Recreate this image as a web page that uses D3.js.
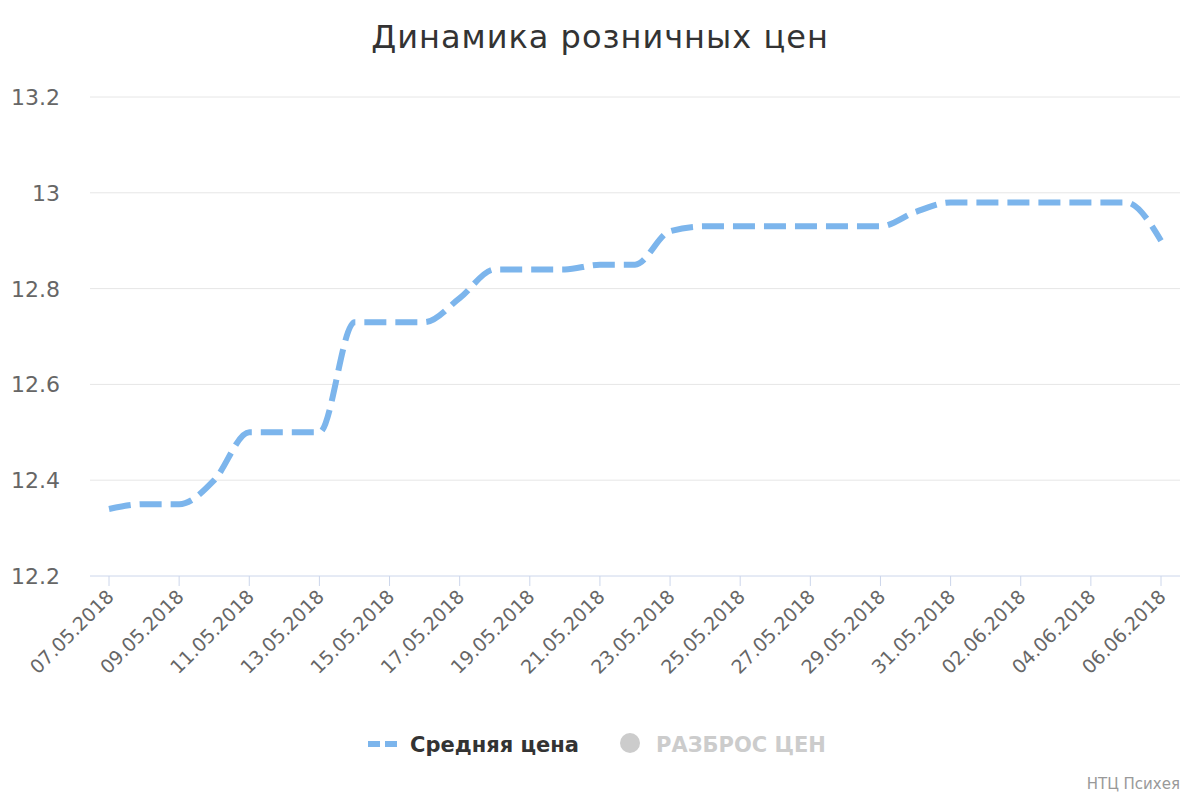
<!DOCTYPE html>
<html>
<head>
<meta charset="utf-8">
<script src="https://cdnjs.cloudflare.com/ajax/libs/d3/7.8.3/d3.min.js"></script>
<style>
 body { margin: 0; background: #fff; }
 text { font-family: "DejaVu Sans", sans-serif; }
</style>
</head>
<body>
<script>
const dates = ["07.05.2018","08.05.2018","09.05.2018","10.05.2018","11.05.2018","12.05.2018","13.05.2018",
  "14.05.2018","15.05.2018","16.05.2018","17.05.2018","18.05.2018","19.05.2018","20.05.2018","21.05.2018",
  "22.05.2018","23.05.2018","24.05.2018","25.05.2018","26.05.2018","27.05.2018","28.05.2018","29.05.2018",
  "30.05.2018","31.05.2018","01.06.2018","02.06.2018","03.06.2018","04.06.2018","05.06.2018","06.06.2018"];
const avgPrice = [12.34,12.35,12.35,12.40,12.50,12.50,12.50,12.73,12.73,12.73,12.78,12.84,12.84,12.84,12.85,
  12.85,12.92,12.93,12.93,12.93,12.93,12.93,12.93,12.96,12.98,12.98,12.98,12.98,12.98,12.98,12.90];
const yTicks = [12.2, 12.4, 12.6, 12.8, 13, 13.2];

const w = 1200, h = 800;
const plotLeft = 90, plotRight = 1180, plotTop = 97, plotBottom = 576;

const svg = d3.select("body").append("svg").attr("width", w).attr("height", h);

const x = d3.scaleLinear().domain([0, dates.length - 1]).range([109, 1161]);
const y = d3.scaleLinear().domain([12.2, 13.2]).range([plotBottom, plotTop]);

svg.append("text").attr("x", 600).attr("y", 48).attr("text-anchor", "middle")
   .attr("font-size", 32).attr("fill", "#333").attr("letter-spacing", 1).text("Динамика розничных цен");

// grid
svg.append("g").selectAll("line").data(yTicks).enter().append("line")
   .attr("x1", plotLeft).attr("x2", plotRight).attr("y1", d => y(d)).attr("y2", d => y(d))
   .attr("stroke", d => d === 12.2 ? "#ccd6eb" : "#e6e6e6").attr("stroke-width", 1);

// y labels
svg.append("g").selectAll("text").data(yTicks).enter().append("text")
   .attr("x", 60).attr("y", d => y(d) + 8).attr("text-anchor", "end")
   .attr("font-size", 22).attr("fill", "#666").text(d => d);

// x ticks
const tickIdx = d3.range(0, dates.length, 2);
svg.append("g").selectAll("line").data(tickIdx).enter().append("line")
   .attr("x1", d => x(d)).attr("x2", d => x(d)).attr("y1", plotBottom).attr("y2", plotBottom + 10)
   .attr("stroke", "#ccd6eb");
svg.append("g").selectAll("text").data(tickIdx).enter().append("text")
   .attr("text-anchor", "end").attr("font-size", 19).attr("fill", "#666")
   .attr("transform", d => `translate(${x(d) + 6},${plotBottom + 22}) rotate(-45)`)
   .text(d => dates[d]);

// line
const line = d3.line().x((d, i) => x(i)).y(d => y(d)).curve(d3.curveMonotoneX);
svg.append("path").datum(avgPrice).attr("d", line).attr("fill", "none")
   .attr("stroke", "#7cb5ec").attr("stroke-width", 6).attr("stroke-dasharray", "22,9");

// legend
svg.append("line").attr("x1", 368).attr("x2", 400).attr("y1", 744).attr("y2", 744)
   .attr("stroke", "#7cb5ec").attr("stroke-width", 6).attr("stroke-dasharray", "12,5");
svg.append("text").attr("x", 410).attr("y", 752).attr("font-size", 21).attr("font-weight", "bold")
   .attr("fill", "#333").text("Средняя цена");
svg.append("circle").attr("cx", 630).attr("cy", 743).attr("r", 10).attr("fill", "#ccc");
svg.append("text").attr("x", 656).attr("y", 752).attr("font-size", 21).attr("font-weight", "bold")
   .attr("fill", "#ccc").text("РАЗБРОС ЦЕН");

svg.append("text").attr("x", 1180).attr("y", 789).attr("text-anchor", "end")
   .attr("font-size", 15).attr("fill", "#999").text("НТЦ Психея");
</script>
</body>
</html>
